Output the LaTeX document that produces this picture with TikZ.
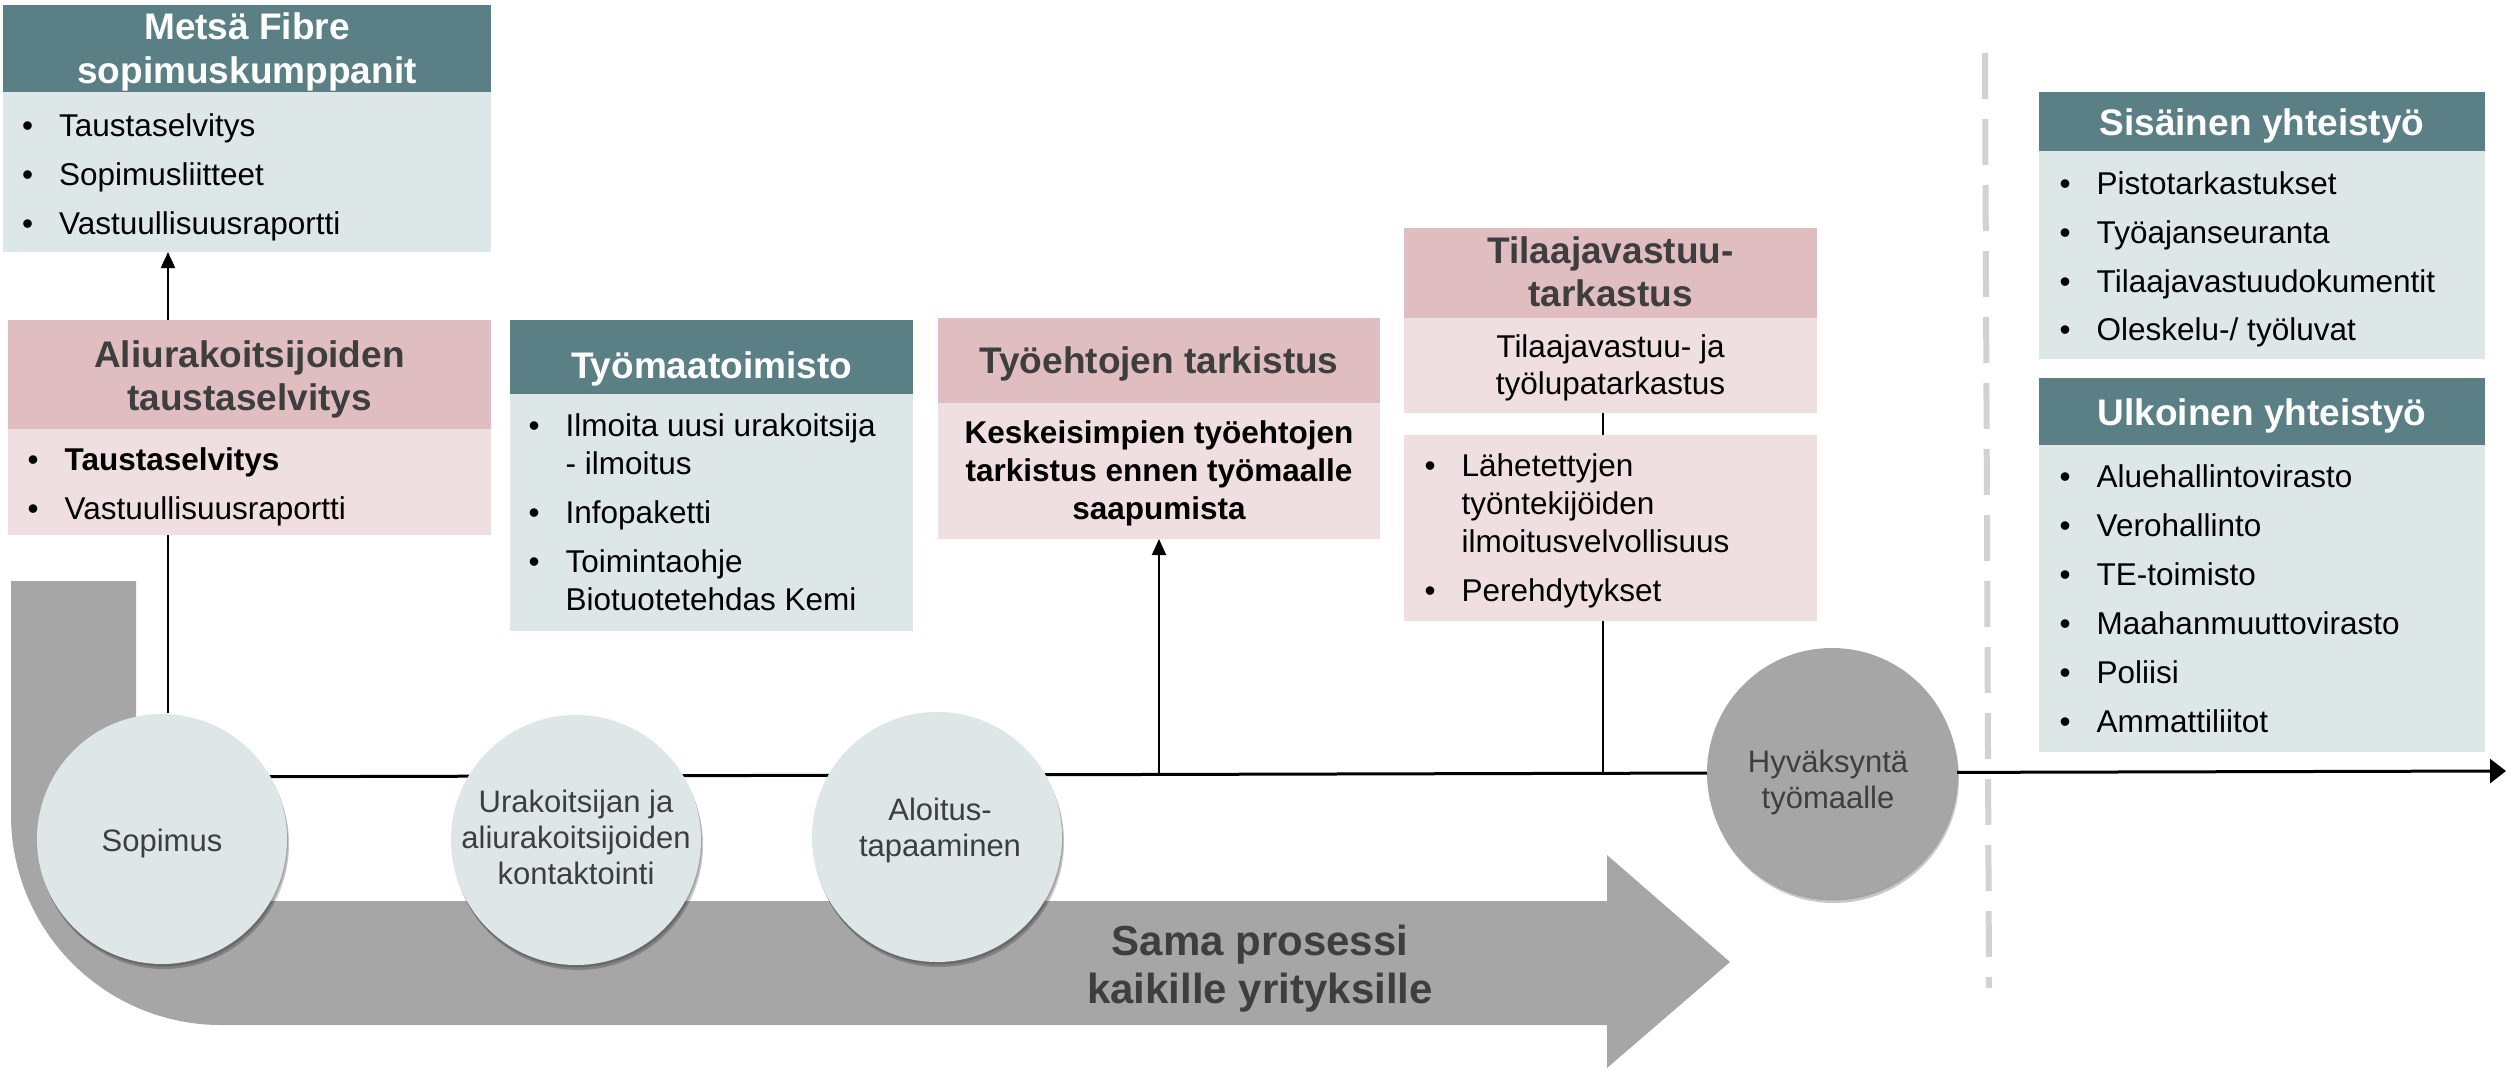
\documentclass[tikz,border=0pt]{standalone}
\usepackage{fontspec}
\setmainfont{Liberation Sans}
\usetikzlibrary{arrows.meta,shadows,calc}
\definecolor{hdteal}{RGB}{90,128,133}
\definecolor{bdteal}{RGB}{221,231,231}
\definecolor{hdpink}{RGB}{223,189,192}
\definecolor{bdpink}{RGB}{239,223,224}
\definecolor{arrgray}{RGB}{166,166,166}
\definecolor{txtgray}{RGB}{62,62,62}
\definecolor{sepgray}{RGB}{210,210,210}
\definecolor{circfill}{RGB}{222,230,231}
\newcommand{\ctab}[1]{\begin{tabular}{@{}c@{}}#1\end{tabular}}
\newcommand{\btab}[1]{\begin{tabular}{@{}p{37pt}@{}l@{}}#1\end{tabular}}
\renewcommand{\arraystretch}{1}
\begin{document}
\begin{tikzpicture}[x=1pt,y=-1pt,
  boxr/.style={rectangle, inner sep=0pt, outer sep=0pt, anchor=north west, draw=none},
  hT/.style={boxr, fill=hdteal},
  bT/.style={boxr, fill=bdteal},
  hP/.style={boxr, fill=hdpink},
  bP/.style={boxr, fill=bdpink},
  htxt/.style={inner sep=0pt, anchor=north, font=\fontsize{37}{43.6}\selectfont\bfseries},
  htw/.style={htxt, text=white},
  htd/.style={htxt, text=txtgray},
  ltxt/.style={inner sep=0pt, anchor=north west, text=black, font=\fontsize{31.5}{38}\selectfont},
  btxt/.style={inner sep=0pt, anchor=north, text=black, font=\fontsize{31.5}{37}\selectfont},
  ctxt/.style={inner sep=0pt, anchor=north, text=txtgray, font=\fontsize{31}{36}\selectfont},
  circ/.style={circle, minimum size=250pt, inner sep=0pt, draw=none,
    drop shadow={shadow xshift=2pt, shadow yshift=-5pt, opacity=0.22, fill=black},
    drop shadow={shadow xshift=1pt, shadow yshift=-2.5pt, opacity=0.18, fill=black}},
  conn/.style={draw=black, line width=2pt},
  arr/.style={conn, -{Triangle[length=16pt,width=14pt]}},
  tline/.style={draw=black, line width=3pt, -{Triangle[length=16pt,width=24pt]}},
  sepline/.style={draw=sepgray, line width=6pt, dash pattern=on 46pt off 20pt}
]
\fill[white] (0,0) rectangle (2506,1070);
\useasboundingbox (0,0) rectangle (2506,1070);

% big gray U-shaped arrow
\fill[arrgray] (11,581) -- (136,581) -- (136,901) -- (1607,901) -- (1607,855)
  -- (1730,962) -- (1607,1068) -- (1607,1025) -- (221,1025)
  .. controls (105,1025) and (11,931) .. (11,815) -- cycle;
\node[inner sep=0pt, anchor=north, text=txtgray, font=\fontsize{42}{48}\selectfont\bfseries]
  (sama) at (1260,921.4) {\ctab{Sama prosessi\\kaikille yrityksille}};

% separator
\coordinate (s0) at (1985,53);
\coordinate (s1) at (1989,988);
\draw[sepline] (s0) -- (s1);

% boxes
\node[hT, minimum width=488pt, minimum height=87pt] (mfH) at (3,5) {};
\node[bT, minimum width=488pt, minimum height=160pt] (mfB) at (3,92) {};
\node[hP, minimum width=483pt, minimum height=109pt] (alH) at (8,320) {};
\node[bP, minimum width=483pt, minimum height=106pt] (alB) at (8,429) {};
\node[hT, minimum width=403pt, minimum height=74pt] (tmH) at (510,320) {};
\node[bT, minimum width=403pt, minimum height=237pt] (tmB) at (510,394) {};
\node[hP, minimum width=442pt, minimum height=85pt] (teH) at (938,318) {};
\node[bP, minimum width=442pt, minimum height=136pt] (teB) at (938,403) {};
\node[hP, minimum width=413pt, minimum height=90pt] (tvH) at (1404,228) {};
\node[bP, minimum width=413pt, minimum height=95pt] (tvB) at (1404,318) {};
\node[bP, minimum width=413pt, minimum height=186pt] (p2B) at (1404,435) {};
\node[hT, minimum width=446pt, minimum height=59pt] (siH) at (2039,92) {};
\node[bT, minimum width=446pt, minimum height=208pt] (siB) at (2039,151) {};
\node[hT, minimum width=446pt, minimum height=67pt] (ulH) at (2039,378) {};
\node[bT, minimum width=446pt, minimum height=307pt] (ulB) at (2039,445) {};

% header texts
\node[htw] (mfT) at (247,9) {\ctab{Metsä Fibre\\sopimuskumppanit}};
\node[htd] (alT) at (249.5,336.5) {\ctab{Aliurakoitsijoiden\\taustaselvitys}};
\node[htw] (tmT) at (711.5,348) {\ctab{Työmaatoimisto}};
\node[htd] (teT) at (1159,342.5) {\ctab{Työehtojen tarkistus}};
\node[htd] (tvT) at (1610.5,232.5) {\ctab{Tilaajavastuu-\\tarkastus}};
\node[htw] (siT) at (2262,104.5) {\ctab{Sisäinen yhteistyö}};
\node[htw] (ulT) at (2262,394.5) {\ctab{Ulkoinen yhteistyö}};

% body texts
\node[ltxt] (mfL) at (22,109.4) {\btab{\textbullet & Taustaselvitys\\[11pt]
  \textbullet & Sopimusliitteet\\[11pt]
  \textbullet & Vastuullisuusraportti}};
\node[ltxt] (alL) at (27.5,443.4) {\btab{\textbullet & \textbf{Taustaselvitys}\\[11pt]
  \textbullet & Vastuullisuusraportti}};
\node[ltxt] (tmL) at (528.5,410) {\btab{\textbullet & Ilmoita uusi urakoitsija\\
  & - ilmoitus\\[11pt]
  \textbullet & Infopaketti\\[11pt]
  \textbullet & Toimintaohje\\
  & Biotuotetehdas Kemi}};
\node[btxt, font=\fontsize{31.5}{38}\selectfont\bfseries] (teL) at (1159,416.4)
  {\ctab{Keskeisimpien työehtojen\\tarkistus ennen työmaalle\\saapumista}};
\node[btxt] (tvL) at (1610.5,331) {\ctab{Tilaajavastuu- ja\\työlupatarkastus}};
\node[ltxt] (p2L) at (1424.5,450) {\btab{\textbullet & Lähetettyjen\\
  & työntekijöiden\\
  & ilmoitusvelvollisuus\\[11pt]
  \textbullet & Perehdytykset}};
\node[ltxt] (siL) at (2059.5,168) {\btab{\textbullet & Pistotarkastukset\\[10.7pt]
  \textbullet & Työajanseuranta\\[10.7pt]
  \textbullet & Tilaajavastuudokumentit\\[10.7pt]
  \textbullet & Oleskelu-/ työluvat}};
\node[ltxt] (ulL) at (2059.5,461) {\btab{\textbullet & Aluehallintovirasto\\[11pt]
  \textbullet & Verohallinto\\[11pt]
  \textbullet & TE-toimisto\\[11pt]
  \textbullet & Maahanmuuttovirasto\\[11pt]
  \textbullet & Poliisi\\[11pt]
  \textbullet & Ammattiliitot}};

% timeline and connectors
\coordinate (tl0) at (162,777);
\coordinate (tl1) at (2506,771);
\draw[tline] (tl0) -- (tl1);
\coordinate (xa) at (168,713);
\draw[conn] (xa) -- (alB.south -| xa);
\draw[arr] (alH.north -| xa) -- (mfB.south -| xa);
\coordinate (xb) at (1159,774);
\draw[arr] (xb) -- (teB.south -| xb);
\coordinate (xc) at (1603,773);
\draw[conn] (tvB.south -| xc) -- (p2B.north -| xc);
\draw[conn] (p2B.south -| xc) -- (xc);

% circles
\node[circ, fill=circfill] (c1) at (162,839) {};
\node[circ, fill=circfill] (c2) at (576,840) {};
\node[circ, fill=circfill] (c3) at (937,837) {};
\node[circ, fill=arrgray] (c4) at (1832,773) {};
\node[ctxt] (c1t) at (162,826.5) {\ctab{Sopimus}};
\node[ctxt] (c2t) at (576,786.8) {\ctab{Urakoitsijan ja\\aliurakoitsijoiden\\kontaktointi}};
\node[ctxt] (c3t) at (940,795.5) {\ctab{Aloitus-\\tapaaminen}};
\node[ctxt] (c4t) at (1828,747.5) {\ctab{Hyväksyntä\\työmaalle}};
\end{tikzpicture}
\end{document}
